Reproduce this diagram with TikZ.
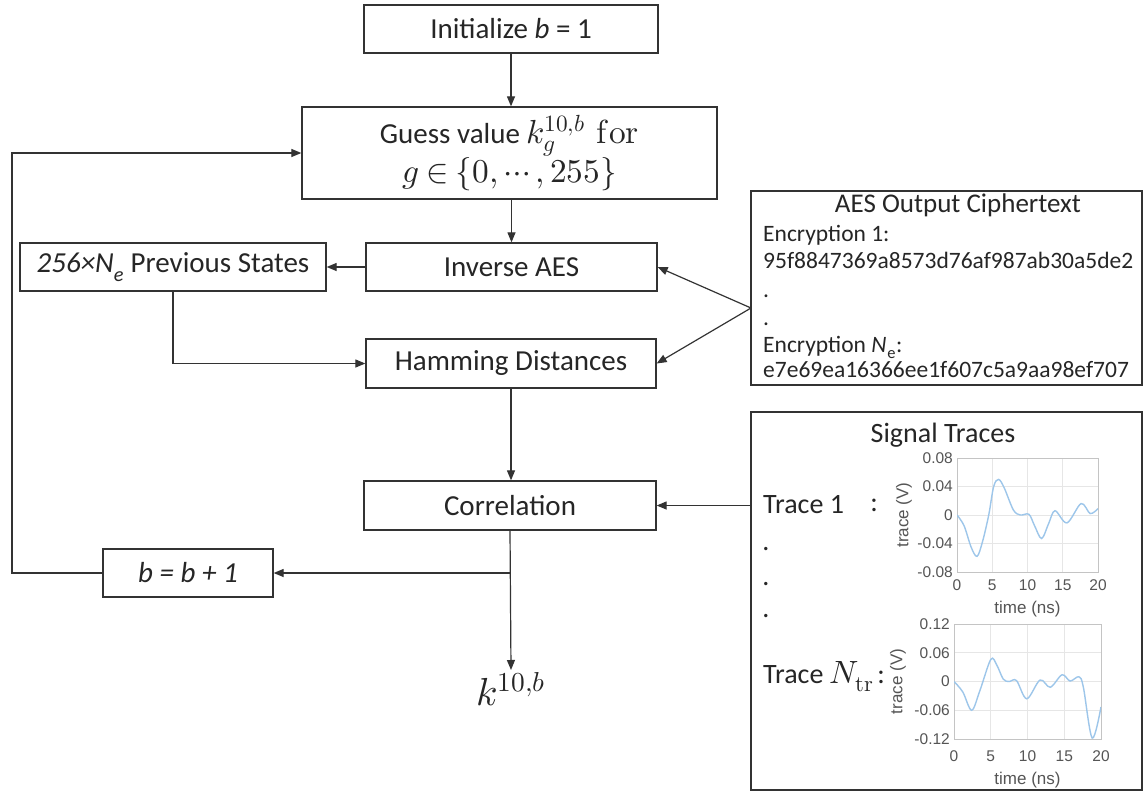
\documentclass[tikz,border=0pt]{standalone}
\usepackage{fontspec}
\usepackage{unicode-math}
\setmainfont{Carlito}
\setmathfont{Latin Modern Math}[Scale=1.15]
\newfontfamily\plotfont{Liberation Sans}
\usetikzlibrary{arrows.meta}
\definecolor{linec}{HTML}{333333}
\definecolor{textc}{HTML}{262626}
\definecolor{tickc}{HTML}{555555}
\definecolor{gridc}{HTML}{E6E6E6}
\definecolor{axisc}{HTML}{C4C4C4}
\definecolor{curvec}{HTML}{9DC6EA}
\begin{document}
\begin{tikzpicture}[x=1pt,y=-1pt,
  box/.style={draw=linec, line width=1.3pt, fill=white, inner sep=0pt, text=textc, font=\fontsize{29}{35}\selectfont, align=center},
  arr/.style={draw=linec, line width=1.2pt, -{Triangle[length=10pt,width=8pt]}},
  aestxt/.style={text=textc, font=\fontsize{23.5}{28}\selectfont, inner sep=0pt},
  sigtxt/.style={text=textc, font=\fontsize{28}{34}\selectfont, inner sep=0pt},
  tick/.style={text=tickc, font=\plotfont\fontsize{15.5}{18}\selectfont, inner sep=0pt},
  axlab/.style={text=tickc, font=\plotfont\fontsize{17}{20}\selectfont, inner sep=0pt},
  gridline/.style={draw=gridc, line width=0.8pt},
  axisframe/.style={draw=axisc, line width=1pt},
  curve/.style={draw=curvec, line width=1.4pt}
]
\useasboundingbox[fill=white] (0,0) rectangle (1143,792);

% main flow boxes
\node[box, minimum width=294pt, minimum height=48pt] (init) at (511,29) {Initialize \textit{b} = 1};
\node[box, minimum width=415pt, minimum height=92pt, font=\fontsize{29}{37}\selectfont] (guess) at (509.5,153) {Guess value $k_g^{10,b}$\ \,$\symup{for}$\\ $\thickmuskip=4mu g\in\{0,\cdots,255\}$};
\node[box, minimum width=291pt, minimum height=48pt] (inv) at (511.5,267) {Inverse AES};
\node[box, minimum width=306pt, minimum height=48pt] (prev) at (173,267) {\textit{256×N\textsubscript{e}} Previous States};
\node[box, minimum width=290pt, minimum height=49pt] (ham) at (511,363.5) {Hamming Distances};
\node[box, minimum width=292pt, minimum height=49pt] (corr) at (510,505.5) {Correlation};
\node[box, minimum width=170pt, minimum height=48pt] (bb) at (188,573) {\textit{b = b + 1}};
\node[text=textc, font=\fontsize{34}{40}\selectfont, inner sep=2pt] (kout) at (511,689) {$k^{10,b}$};

% AES ciphertext box
\node[draw=linec, line width=1.3pt, minimum width=391pt, minimum height=194pt, inner sep=0pt] (aes) at (946.5,288) {};
\node[aestxt, anchor=base, font=\fontsize{27}{32}\selectfont] (aest) at (958,212) {AES Output Ciphertext};
\node[aestxt, anchor=base west] (e1) at (763,241) {Encryption 1:};
\node[aestxt, anchor=base west] (c1) at (763,268) {95f8847369a8573d76af987ab30a5de2};
\node[aestxt, anchor=base west] (d1) at (763,297) {.};
\node[aestxt, anchor=base west] (d2) at (763,325) {.};
\node[aestxt, anchor=base west] (e2) at (763,352) {Encryption \textit{N}\kern1pt\textsubscript{e}:};
\node[aestxt, anchor=base west] (c2) at (763,377) {e7e69ea16366ee1f607c5a9aa98ef707};

% Signal traces box
\node[draw=linec, line width=1.3pt, minimum width=391pt, minimum height=378pt, inner sep=0pt] (sig) at (946.5,601) {};
\node[sigtxt] (sigt) at (943,435) {Signal Traces};
\node[sigtxt, anchor=west] (t1) at (763,505) {Trace 1};
\node[sigtxt] (t1c) at (874,505) {:};
\node[sigtxt, anchor=base] (sd1) at (766,550) {.};
\node[sigtxt, anchor=base] (sd2) at (766,585) {.};
\node[sigtxt, anchor=base] (sd3) at (766,617) {.};
\node[sigtxt, anchor=west] (tn) at (763,677) {Trace $N_{\symup{tr}}$};
\node[sigtxt] (tnc) at (881,677) {:};

% plot 1
\begin{scope}[shift={(957,515)}, x=7.05pt, y=712.5pt]
  \foreach \t in {5,10,15} \draw[gridline] (\t,-0.08) -- (\t,0.08);
  \foreach \v in {-0.04,0,0.04} \draw[gridline] (0,\v) -- (20,\v);
  \draw[axisframe] (0,-0.08) rectangle (20,0.08);
  \foreach \t in {0,5,10,15,20} \node[tick, yshift=-13pt] (p1x\t) at (\t,-0.08) {\t};
  \foreach \v/\l [count=\i] in {0.08/0.08, 0.04/0.04, 0/0, -0.04/-0.04, -0.08/-0.08}
    \node[tick, anchor=east, xshift=-4pt] (p1y\i) at (0,\v) {\l};
  \node[axlab, yshift=-37pt] (p1xl) at (10,-0.08) {time (ns)};
  \node[axlab, rotate=90] (p1yl) at ([xshift=-53pt]0,0) {trace (V)};
  \begin{scope}
    \clip (0,-0.08) rectangle (20,0.08);
    \draw[curve] plot[smooth, tension=0.55] coordinates {(0,0) (1,-0.015) (2,-0.045) (2.84,-0.058) (3.6,-0.038) (4.5,0) (5.2,0.04) (5.9,0.05) (6.7,0.038) (8,0.007) (9,0) (10.2,0.001) (11,-0.015) (12,-0.033) (13,-0.012) (13.9,0.006) (15.6,-0.011) (17.6,0.016) (18.9,0.002) (20,0.009)};
  \end{scope}
\end{scope}

% plot 2
\begin{scope}[shift={(954,681.5)}, x=7.35pt, y=479.2pt]
  \foreach \t in {5,10,15} \draw[gridline] (\t,-0.12) -- (\t,0.12);
  \foreach \v in {-0.06,0,0.06} \draw[gridline] (0,\v) -- (20,\v);
  \draw[axisframe] (0,-0.12) rectangle (20,0.12);
  \foreach \t in {0,5,10,15,20} \node[tick, yshift=-17pt] (p2x\t) at (\t,-0.12) {\t};
  \foreach \v/\l [count=\i] in {0.12/0.12, 0.06/0.06, 0/0, -0.06/-0.06, -0.12/-0.12}
    \node[tick, anchor=east, xshift=-4pt] (p2y\i) at (0,\v) {\l};
  \node[axlab, yshift=-41pt] (p2xl) at (10,-0.12) {time (ns)};
  \node[axlab, rotate=90] (p2yl) at ([xshift=-56pt]0,0) {trace (V)};
  \begin{scope}
    \clip (0,-0.12) rectangle (20,0.12);
    \draw[curve] plot[smooth, tension=0.55] coordinates {(0,0) (1.2,-0.022) (2.4,-0.06) (3.5,-0.02) (5,0.046) (5.8,0.035) (6.7,0.005) (7.5,0) (8.5,0.002) (9.9,-0.036) (11.7,0.003) (13.1,-0.012) (14.7,0.014) (15.8,0.001) (17,0.01) (17.6,-0.012) (18.8,-0.118) (20,-0.053)};
  \end{scope}
\end{scope}

% connectors
\draw[arr] (init.south) -- (init.south |- guess.north);
\draw[arr] (inv.north |- guess.south) -- (inv.north);
\draw[arr] (inv.west) -- (prev.east);
\draw[arr] (prev.south) |- (ham.west);
\draw[arr] (ham.south) -- (ham.south |- corr.north);
\draw[arr] (corr.south) -- (kout.north);
\coordinate (br) at (corr.south |- bb.east);
\draw[arr] (br) -- (bb.east);
\coordinate (lp) at (12,573);
\draw[arr] (bb.west) -- (lp) |- (guess.west);
\coordinate (aesw) at (751,308);
\draw[arr] (aesw) -- (inv.east);
\draw[arr] (aesw) -- (ham.east);
\draw[arr] (sig.west |- corr.east) -- (corr.east);
\end{tikzpicture}
\end{document}
